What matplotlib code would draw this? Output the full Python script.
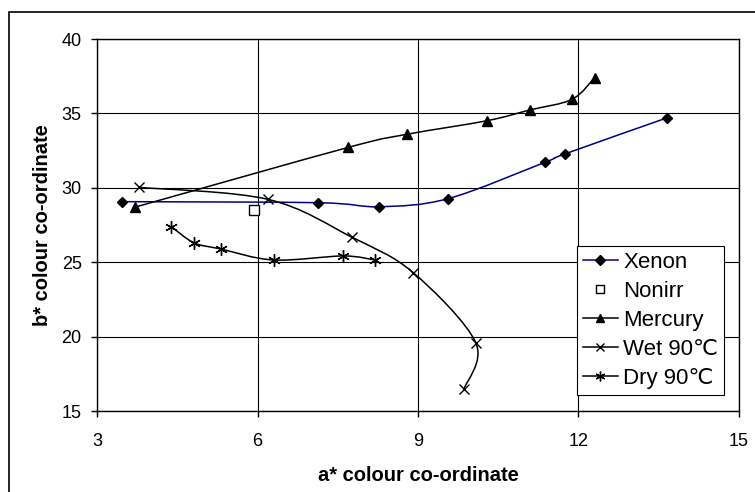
import numpy as np
import matplotlib
matplotlib.use("Agg")
import matplotlib.pyplot as plt
from matplotlib.path import Path
from matplotlib.patches import PathPatch, Rectangle
from matplotlib.lines import Line2D

plt.rcParams["font.family"] = ["Liberation Sans", "DejaVu Sans"]

# data (a*, b*)
xenon_a = [3.46, 7.13, 8.27, 9.56, 11.37, 11.74, 13.66]
xenon_b = [29.07, 29.0, 28.73, 29.27, 31.71, 32.27, 34.71]

nonirr_a = [5.94]
nonirr_b = [28.5]

mercury_a = [3.71, 7.70, 8.80, 10.29, 11.09, 11.88, 12.30]
mercury_b = [28.7, 32.72, 33.6, 34.51, 35.23, 35.95, 37.4]

wet_a = [3.78, 6.19, 7.77, 8.91, 10.08, 9.86]
wet_b = [30.03, 29.23, 26.67, 24.3, 19.59, 16.48]

dry_a = [4.39, 4.81, 5.31, 6.30, 7.60, 8.19]
dry_b = [27.39, 26.31, 25.89, 25.15, 25.42, 25.15]

labels = ["Xenon", "Nonirr", "Mercury", "Wet 90\u2103", "Dry 90\u2103"]
x_ticks = [3, 6, 9, 12, 15]
y_ticks = [15, 20, 25, 30, 35, 40]


def smooth_path(xs, ys):
    # Excel-style smoothed line: Catmull-Rom through the points as cubic Beziers
    p = np.column_stack([xs, ys]).astype(float)
    n = len(p)
    verts = [p[0]]
    codes = [Path.MOVETO]
    for i in range(n - 1):
        p0 = p[i - 1] if i > 0 else p[i]
        p3 = p[i + 2] if i + 2 < n else p[i + 1]
        c1 = p[i] + (p[i + 1] - p0) / 6.0
        c2 = p[i + 1] - (p3 - p[i]) / 6.0
        verts += [c1, c2, p[i + 1]]
        codes += [Path.CURVE4] * 3
    return Path(verts, codes)


fig = plt.figure(figsize=(7.55, 4.92), dpi=100)
ax = fig.add_axes([0.1285, 0.1646, 0.8503, 0.7561])

series = [
    (xenon_a, xenon_b, "#000080", "D", "black", 5.5),
    (mercury_a, mercury_b, "black", "^", "black", 6.5),
    (wet_a, wet_b, "black", "x", "black", 7),
    (dry_a, dry_b, "black", (6, 2, 0), "black", 9),
]
for xs, ys, lc, mk, mc, ms in series:
    ax.add_patch(PathPatch(smooth_path(xs, ys), fill=False, edgecolor=lc, lw=1.1, zorder=3))
    ax.plot(xs, ys, ls="none", marker=mk, color=mc, markersize=ms, mew=1.0, zorder=4)

ax.plot(nonirr_a, nonirr_b, ls="none", marker="s", markersize=6.5, mfc="white",
        mec="black", mew=1.0, zorder=4)

ax.set_xlim(3, 15)
ax.set_ylim(15, 40)
ax.set_xticks(x_ticks)
ax.set_yticks(y_ticks)
ax.grid(True, color="black", lw=0.8)
ax.set_axisbelow(True)
for s in ax.spines.values():
    s.set_linewidth(1.0)
ax.tick_params(direction="out", length=4, width=1.0, labelsize=13)
ax.tick_params(axis="x", pad=12)
ax.tick_params(axis="y", pad=7)
ax.set_xlabel("a* colour co-ordinate", fontsize=14.5, fontweight="bold", labelpad=11)
ax.set_ylabel("b* colour co-ordinate", fontsize=14.5, fontweight="bold", labelpad=7)

handles = [
    Line2D([], [], color="#000080", lw=1.1, marker="D", mfc="black", mec="black", markersize=5),
    Line2D([], [], ls="none", marker="s", mfc="white", mec="black", markersize=6),
    Line2D([], [], color="black", lw=1.1, marker="^", markersize=6),
    Line2D([], [], color="black", lw=1.1, marker="x", markersize=6),
    Line2D([], [], color="black", lw=1.1, marker=(6, 2, 0), markersize=7),
]
leg = ax.legend(handles, labels, loc="upper left", bbox_to_anchor=(0.7477, 0.4435),
                fontsize=16, frameon=True, fancybox=False, framealpha=1,
                edgecolor="black", handlelength=1.55, handletextpad=0.25,
                labelspacing=0.36, borderpad=0.28, borderaxespad=0)
leg.get_frame().set_linewidth(0.8)
leg.set_zorder(5)

fig.patches.append(Rectangle((9 / 755, -0.1), 1.2, (480 / 492) + 0.1,
                             transform=fig.transFigure, fill=False,
                             edgecolor="black", lw=1.2))

fig.savefig("out.png", dpi=100)
